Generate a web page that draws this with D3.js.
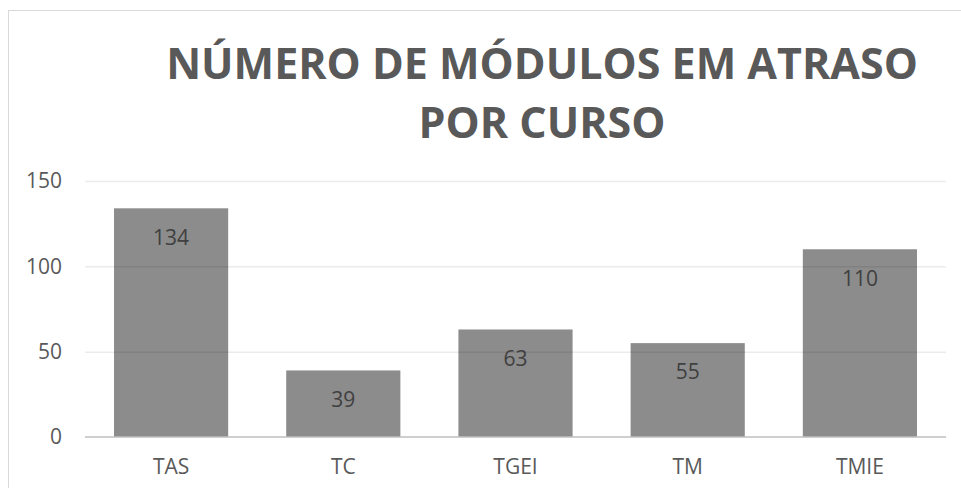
<!DOCTYPE html>
<html>
<head>
<meta charset="utf-8">
<script src="https://cdn.jsdelivr.net/npm/d3@7"></script>
<style>
  html, body { margin: 0; padding: 0; background: #fff; }
  #chart { width: 961px; height: 488px; }
  text { font-family: 'Open Sans', sans-serif; }
</style>
</head>
<body>
<div id="chart"></div>
<script>
'use strict';

const categories = ['TAS', 'TC', 'TGEI', 'TM', 'TMIE'];
const values = [134, 39, 63, 55, 110];
const yTicks = [0, 50, 100, 150];
const titleLines = ['NÚMERO DE MÓDULOS EM ATRASO', 'POR CURSO'];

const W = 961, H = 488;
const MARGIN = { top: 181, right: 15, bottom: 51, left: 85 };
const w = W - MARGIN.left - MARGIN.right;
const h = H - MARGIN.top - MARGIN.bottom;

const svg = d3.select('#chart').append('svg')
  .attr('width', W).attr('height', H);

// chart frame (runs off the right / bottom edge like the source)
svg.append('rect')
  .attr('x', 8.5).attr('y', 10.5)
  .attr('width', 1000).attr('height', 1000)
  .attr('fill', 'none')
  .attr('stroke', '#d9d9d9');

// title
svg.append('g').selectAll('text')
  .data(titleLines)
  .join('text')
  .attr('x', 542)
  .attr('y', (d, i) => 79 + i * 59)
  .attr('text-anchor', 'middle')
  .attr('font-size', '43px')
  .attr('font-weight', 700)
  .attr('fill', '#595959')
  .text(d => d);

const g = svg.append('g')
  .attr('transform', `translate(${MARGIN.left},${MARGIN.top})`);

const x = d3.scaleBand()
  .domain(categories)
  .range([0, w])
  .paddingInner(0.337)
  .paddingOuter(0.337 / 2);

const y = d3.scaleLinear()
  .domain([0, 150])
  .range([h, 0]);

// bars
g.append('g').selectAll('rect')
  .data(values)
  .join('rect')
  .attr('x', (d, i) => x(categories[i]))
  .attr('y', d => y(d))
  .attr('width', x.bandwidth())
  .attr('height', d => h - y(d))
  .attr('fill', '#8c8c8c');

// grid (drawn over bars, faint)
g.append('g')
  .call(d3.axisLeft(y).tickValues(yTicks.slice(1)).tickSize(-w).tickFormat(''))
  .call(grp => grp.select('.domain').remove())
  .call(grp => grp.selectAll('line').attr('stroke', '#000').attr('stroke-opacity', 0.08).attr('stroke-width', 1.5));

// baseline
g.append('line')
  .attr('x1', 0).attr('x2', w)
  .attr('y1', y(0)).attr('y2', y(0))
  .attr('stroke', '#bfbfbf')
  .attr('stroke-width', 1.5);

// y tick labels
g.append('g').selectAll('text')
  .data(yTicks)
  .join('text')
  .attr('x', -23)
  .attr('y', d => y(d))
  .attr('dy', '0.35em')
  .attr('text-anchor', 'end')
  .attr('font-size', '21px')
  .attr('fill', '#595959')
  .text(d => d);

// category labels
g.append('g').selectAll('text')
  .data(categories)
  .join('text')
  .attr('x', d => x(d) + x.bandwidth() / 2)
  .attr('y', h + 30)
  .attr('dy', '0.35em')
  .attr('text-anchor', 'middle')
  .attr('font-size', '21px')
  .attr('fill', '#595959')
  .text(d => d);

// data labels
g.append('g').selectAll('text')
  .data(values)
  .join('text')
  .attr('x', (d, i) => x(categories[i]) + x.bandwidth() / 2)
  .attr('y', d => y(d) + 29)
  .attr('dy', '0.35em')
  .attr('text-anchor', 'middle')
  .attr('font-size', '21px')
  .attr('fill', '#404040')
  .text(d => d);
</script>
</body>
</html>
